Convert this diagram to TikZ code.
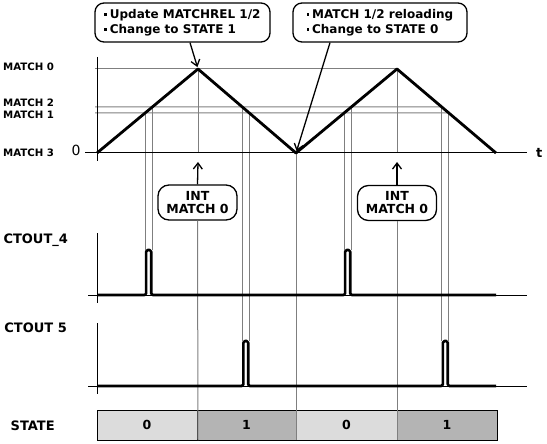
\documentclass[tikz,border=0pt]{standalone}
\usepackage{fontspec}
\setmainfont{DejaVu Sans}
\usetikzlibrary{arrows.meta,calc}
\definecolor{gl}{HTML}{7F7F7F}
\definecolor{stlight}{HTML}{DCDCDC}
\definecolor{stdark}{HTML}{B4B4B4}
\newcommand{\blt}{\raisebox{2.6pt}{\rule{2.4pt}{2.4pt}}\hspace{3pt}}
\begin{document}
\begin{tikzpicture}[x=1pt,y=-1pt,
  gline/.style={draw=gl,line width=1pt},
  axline/.style={draw=black,line width=1pt},
  sig/.style={draw=black,line width=2.8pt,line join=round},
  pulse/.style={draw=black,line width=2.6pt,line join=round,rounded corners=1.6pt},
  callout/.style={draw=black,line width=1.3pt,rounded corners=9pt,fill=white,align=left,
    font=\bfseries\fontsize{12}{15}\selectfont,minimum width=175pt,minimum height=39pt,inner sep=2pt},
  intbox/.style={draw=black,line width=1.3pt,rounded corners=11pt,fill=white,align=center,
    font=\bfseries\fontsize{12.5}{13}\selectfont,minimum width=79pt,minimum height=35pt,inner sep=1pt},
  arr/.style={-{Straight Barb[length=6pt,width=9pt,line width=1.3pt]},line width=1.3pt},
  mlbl/.style={anchor=base west,inner sep=0pt,font=\bfseries\fontsize{10.2}{10}\selectfont},
  clbl/.style={anchor=base west,inner sep=0pt,font=\bfseries\fontsize{13}{13}\selectfont},
  stcell/.style={draw=black,line width=0.8pt,minimum height=30pt,inner sep=0pt,
    font=\bfseries\fontsize{12.5}{13}\selectfont}]
\useasboundingbox (0,0) rectangle (547,444);
% key points of the counter waveform
\coordinate (v0) at (97,153);
\coordinate (p1) at (198,69);
\coordinate (v1) at (296,153);
\coordinate (p2) at (397,69);
\coordinate (v2) at (496,153);
% crossings
\coordinate (r1a) at ($(v0)!40/84!(p1)$);
\coordinate (r1b) at ($(v0)!46/84!(p1)$);
\coordinate (f1a) at ($(p1)!38/84!(v1)$);
\coordinate (f1b) at ($(p1)!44/84!(v1)$);
\coordinate (r2a) at ($(v1)!40/84!(p2)$);
\coordinate (r2b) at ($(v1)!46/84!(p2)$);
\coordinate (f2a) at ($(p2)!38/84!(v2)$);
\coordinate (f2b) at ($(p2)!44/84!(v2)$);
% levels
\coordinate (b4) at (0,295);
\coordinate (t4) at (0,250);
\coordinate (b5) at (0,386);
\coordinate (t5) at (0,341);
\coordinate (bot) at (0,440);
\coordinate (ax) at (0,153);

% labels
\node[mlbl] (m0) at (3,71) {MATCH 0};
\node[mlbl] (m2) at (3,106.7) {MATCH 2};
\node[mlbl] (m1) at (3,118.3) {MATCH 1};
\node[mlbl] (m3) at (3,157) {MATCH 3};
\node[anchor=base,inner sep=0pt,font=\fontsize{14}{14}\selectfont] (zero) at (76,155.5) {0};
\node[anchor=base west,inner sep=0pt,font=\bfseries\fontsize{13}{13}\selectfont] (tl) at (536,157.3) {t};
\node[clbl] (c4) at (3.3,243.3) {CTOUT\_4};
\node[clbl] (c5) at (4.2,332.3) {CTOUT 5};
\node[clbl] (st) at (10.5,430.7) {STATE};

% state cells
\node[stcell,fill=stlight,minimum width=100pt] (s1) at (147,425) {0};
\node[stcell,fill=stdark,minimum width=99pt] (s2) at (246.5,425) {1};
\node[stcell,fill=stlight,minimum width=101pt] (s3) at (346.5,425) {0};
\node[stcell,fill=stdark,minimum width=100pt] (s4) at (447,425) {1};

% horizontal level lines
\draw[gline] (95,69) -- (p2);
\draw[gline] (95,107) -- (f2a);
\draw[gline] (95,113) -- (f2b);

% vertical guide lines
\foreach \c in {r1a,r1b,r2a,r2b} \draw[gline] (\c) -- (\c|-t4);
\foreach \c in {f1a,f1b,f2a,f2b} \draw[gline] (\c) -- (\c|-t5);
\draw[gline] (p1) -- (p1|-ax);
\draw[gline] (p2) -- (p2|-ax);
\draw[gline] (v1) -- (v1|-bot);

% INT boxes
\node[intbox] (i1) at (197.5,202.5) {INT\\MATCH 0};
\node[intbox] (i2) at (397,203) {INT\\MATCH 0};
\coordinate (a1) at (198,162);
\coordinate (a2) at (397,162);
\draw[arr] (i1.north) -- (a1);
\draw[arr] (i2.north) -- (a2);
\draw[gline] (i1.south) -- (p1|-bot);
\draw[gline] (i2.south) -- (p2|-bot);

% axes
\draw[axline] (85,153) -- (527,153);
\draw[axline] (97,57) -- (97,161);
\draw[axline] (88,295) -- (527,295);
\draw[axline] (97,233) -- (97,303);
\draw[axline] (88,386) -- (527,386);
\draw[axline] (97,323) -- (97,394);

% counter waveform
\draw[sig] (v0) -- (p1) -- (v1) -- (p2) -- (v2);

% CTOUT_4
\draw[pulse] (97,295) -- ([xshift=1.1pt]r1a|-b4) -- ([xshift=1.1pt]r1a|-t4) -- ([xshift=-1.1pt]r1b|-t4)
  -- ([xshift=-1.1pt]r1b|-b4) -- ([xshift=1.1pt]r2a|-b4) -- ([xshift=1.1pt]r2a|-t4)
  -- ([xshift=-1.1pt]r2b|-t4) -- ([xshift=-1.1pt]r2b|-b4) -- (496,295);
% CTOUT 5
\draw[pulse] (97,386) -- ([xshift=1.1pt]f1a|-b5) -- ([xshift=1.1pt]f1a|-t5) -- ([xshift=-1.1pt]f1b|-t5)
  -- ([xshift=-1.1pt]f1b|-b5) -- ([xshift=1.1pt]f2a|-b5) -- ([xshift=1.1pt]f2a|-t5)
  -- ([xshift=-1.1pt]f2b|-t5) -- ([xshift=-1.1pt]f2b|-b5) -- (496,386);

% callouts
\node[callout] (co1) at (182.5,22.5) {\blt Update MATCHREL 1/2\\\blt Change to STATE 1};
\node[callout,minimum width=174pt] (co2) at (380,22.5) {\blt MATCH 1/2 reloading\\\blt Change to STATE 0};
\draw[arr,shorten >=2pt] ([xshift=7.5pt]co1.south) -- (p1);
\draw[arr,shorten >=2pt] ([xshift=-50pt]co2.south) -- (v1);
\end{tikzpicture}
\end{document}
